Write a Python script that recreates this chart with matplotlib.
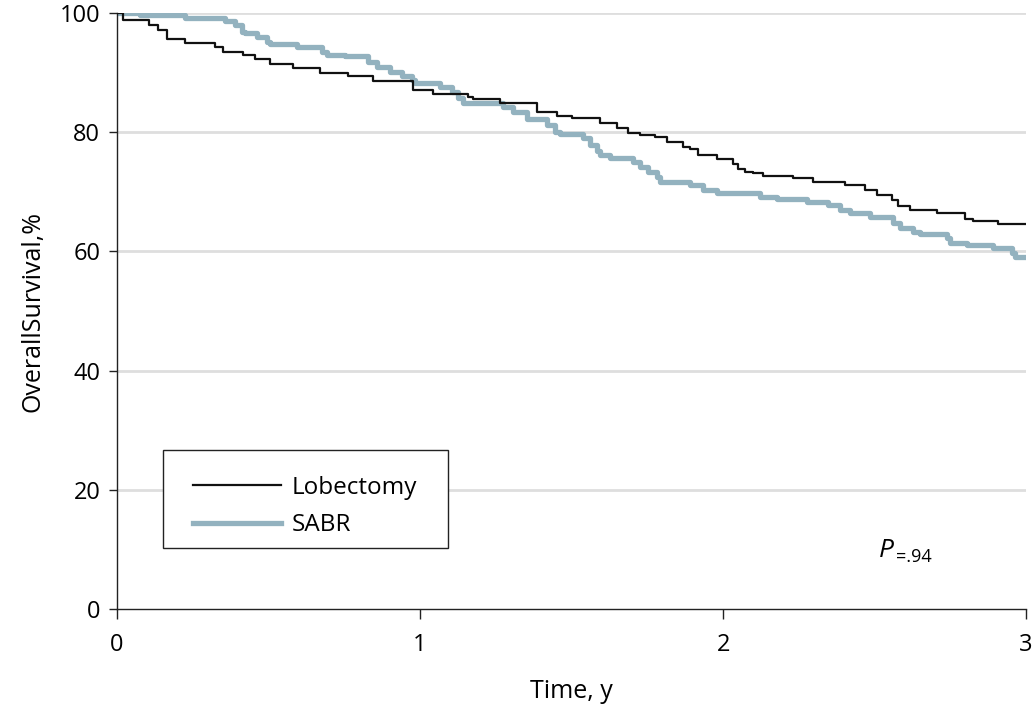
import numpy as np
import matplotlib
matplotlib.use("Agg")
import matplotlib.pyplot as plt
from matplotlib.patches import Rectangle

# Kaplan-Meier steps (time in years, survival in %)
lob_t = [0.000, 0.020, 0.106, 0.135, 0.165, 0.224, 0.323, 0.350, 0.416, 0.455,
         0.505, 0.581, 0.670, 0.762, 0.845, 0.977, 1.043, 1.158, 1.175, 1.264,
         1.386, 1.452, 1.502, 1.594, 1.650, 1.686, 1.726, 1.776, 1.815, 1.868,
         1.891, 1.917, 1.980, 2.033, 2.050, 2.073, 2.099, 2.132, 2.231, 2.297,
         2.403, 2.469, 2.508, 2.558, 2.578, 2.617, 2.706, 2.799, 2.825, 2.908, 3.000]
lob_s = [100.0, 98.8, 98.0, 97.1, 95.6, 95.0, 94.3, 93.5, 93.0, 92.3,
         91.4, 90.8, 89.9, 89.4, 88.6, 87.1, 86.4, 85.9, 85.6, 84.9,
         83.4, 82.7, 82.4, 81.5, 80.7, 79.9, 79.5, 79.2, 78.4, 77.5,
         77.2, 76.2, 75.5, 74.7, 73.8, 73.3, 73.2, 72.7, 72.3, 71.6,
         71.1, 70.3, 69.5, 68.6, 67.6, 66.9, 66.4, 65.4, 65.1, 64.6, 64.6]

sabr_t = [0.000, 0.076, 0.224, 0.356, 0.389, 0.413, 0.422, 0.462, 0.495, 0.505,
          0.594, 0.677, 0.693, 0.752, 0.828, 0.858, 0.901, 0.941, 0.974, 0.983,
          1.066, 1.106, 1.125, 1.142, 1.274, 1.307, 1.353, 1.419, 1.446, 1.462,
          1.538, 1.561, 1.584, 1.594, 1.627, 1.703, 1.726, 1.752, 1.782, 1.792,
          1.891, 1.934, 1.980, 2.122, 2.178, 2.277, 2.347, 2.386, 2.419, 2.485,
          2.561, 2.584, 2.627, 2.650, 2.739, 2.749, 2.805, 2.891, 2.954, 2.964, 3.000]
sabr_s = [100.0, 99.7, 99.2, 98.7, 98.0, 96.8, 96.6, 96.0, 95.1, 94.8,
          94.3, 93.5, 93.0, 92.8, 91.8, 90.9, 90.1, 89.4, 88.8, 88.3,
          87.6, 86.7, 85.7, 84.9, 84.2, 83.4, 82.2, 81.2, 80.0, 79.7,
          79.0, 77.9, 76.8, 76.2, 75.7, 75.0, 74.2, 73.3, 72.5, 71.6,
          71.1, 70.3, 69.8, 69.1, 68.8, 68.3, 67.8, 66.9, 66.4, 65.8,
          64.8, 63.9, 63.3, 62.9, 62.2, 61.4, 61.1, 60.6, 59.7, 59.1, 59.1]

y_ticks = [0, 20, 40, 60, 80, 100]
x_ticks = [0, 1, 2, 3]

plt.rcParams['font.family'] = ['Open Sans', 'DejaVu Sans']

fig = plt.figure(figsize=(10.33, 7.12), dpi=100)
ax = fig.add_axes([0.1133, 0.1447, 0.8800, 0.8370])

# horizontal gridlines
for yv in y_ticks[1:]:
    ax.axhline(yv, color='#dedede', lw=2, zorder=0)

ax.plot(lob_t, lob_s, drawstyle='steps-post', color='#111111', lw=1.6,
        label='Lobectomy', zorder=3)
ax.plot(sabr_t, sabr_s, drawstyle='steps-post', color='#93b2bf', lw=3.8,
        label='SABR', zorder=2)

ax.set_xlim(0, 3)
ax.set_ylim(0, 100)
ax.set_xticks(x_ticks)
ax.set_yticks(y_ticks)
ax.tick_params(axis='both', labelsize=17, length=7, width=1.0, color='#222222')
ax.tick_params(axis='x', pad=10)
ax.tick_params(axis='y', length=6, pad=6)
for side in ['top', 'right']:
    ax.spines[side].set_visible(False)
for side in ['left', 'bottom']:
    ax.spines[side].set_linewidth(1.0)
    ax.spines[side].set_color('#222222')

ax.set_xlabel('Time, y', fontsize=18, labelpad=16)
ax.set_ylabel('OverallSurvival,%', fontsize=18, labelpad=10)

# legend box drawn separately (wider padding than matplotlib's frame)
ax.add_patch(Rectangle((0.0506, 0.1023), 0.3135, 0.1645, transform=ax.transAxes,
                       facecolor='white', edgecolor='#222222', lw=1.0, zorder=4))
leg = ax.legend(loc='center left', bbox_to_anchor=(0.0836, 0.172), fontsize=17.5,
                frameon=False, handlelength=3.6, handletextpad=0.45,
                borderpad=0, labelspacing=0.55, borderaxespad=0)
leg.set_zorder(5)

ax.text(0.838, 0.088, 'P', transform=ax.transAxes, fontsize=19,
        style='italic', ha='left', va='baseline')
ax.text(0.857, 0.078, '=.94', transform=ax.transAxes, fontsize=13,
        ha='left', va='baseline')

fig.savefig('out.png', dpi=100)
